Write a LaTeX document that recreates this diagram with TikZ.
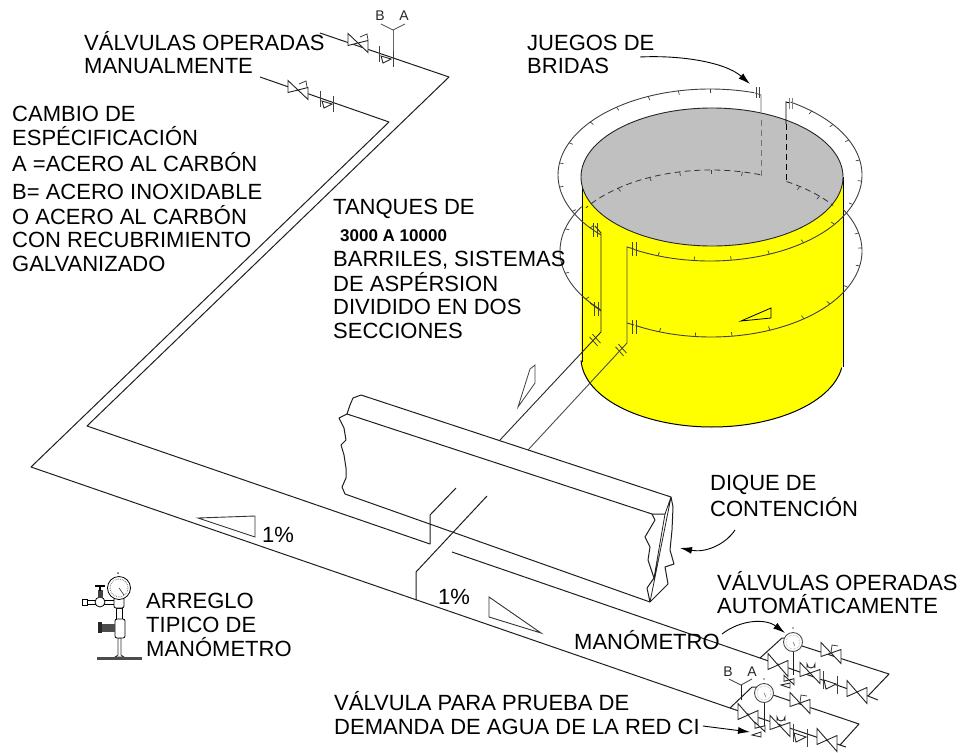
\documentclass[tikz,border=0pt]{standalone}
\usepackage{fontspec}
\setmainfont{Liberation Sans}
\usetikzlibrary{arrows.meta}
\definecolor{tankyellow}{RGB}{255,255,0}
\definecolor{tankgrey}{RGB}{192,192,192}
\definecolor{inkline}{RGB}{30,30,30}
\tikzset{
  lbl/.style={anchor=base west,inner sep=0pt,font=\fontsize{22}{26}\selectfont,text=black},
  lblsmall/.style={anchor=base,inner sep=0pt,font=\fontsize{14}{16}\selectfont,text=black!85},
  pipe/.style={draw=inkline,line width=1pt,line join=round},
  thin line/.style={draw=inkline!85,line width=0.8pt},
  ringline/.style={draw=black!75,line width=0.9pt},
  callout/.style={draw=black,line width=0.9pt,-{Latex[length=12pt,width=7pt]}},
  fitting/.style={draw=black!85,line width=0.9pt,fill=white,line join=miter},
}
% bowtie valve drawn along an isometric pipe
\newcommand\vbow[4]{% x y half-length half-height
  \draw[fitting] ({#1-#3},{#2-0.35*#3-#4}) -- ({#1+#3},{#2+0.35*#3+#4}) -- ({#1+#3},{#2+0.35*#3-#4}) -- ({#1-#3},{#2-0.35*#3+#4}) -- cycle;}
\newcommand\flangepair[4]{% x y half-height gap
  \draw[thin line] (#1,{#2-#3}) -- (#1,{#2+#3}) ({#1+#4},{#2+0.35*#4-#3}) -- ({#1+#4},{#2+0.35*#4+#3});}
\newcommand\ringticks[5]{% cx cy rx ry list
  \foreach \a in {#5}{\draw[ringline,line width=0.7pt] ({#1+#3*cos(\a)},{#2+#4*sin(\a)}) -- ({#1+(#3-4)*cos(\a)},{#2+(#4-4)*sin(\a)});}}
\newcommand\gaugedial[2]{%
  \draw[fitting,draw=black!70] (#1,#2) circle[radius=9.5];
  \fill[black!60] (#1,{#2-14}) circle[radius=0.9];
  \draw[black!45,densely dotted,line width=0.5pt] (#1,#2) circle[radius=7];
  \draw[black!60,line width=0.5pt] (#1,#2) -- ({#1+2},{#2+4});}
\newcommand\wflange[4]{% x y angle spread: double mark across a pipe
  \begin{scope}[shift={(#1,#2)},rotate=#3]
    \draw[thin line] (-2,-#4) -- (-2,#4) (2,-#4) -- (2,#4);
  \end{scope}}
\begin{document}
\begin{tikzpicture}[x=1pt,y=-1pt]
\useasboundingbox (0,0) rectangle (965,752);
% ---------------- tank
\fill[tankyellow] (582,177) -- (843,177) -- (843,360)
  -- plot[domain=0:180,samples=61] ({712+131*cos(\x)},{358+69*sin(\x)}) -- cycle;
\draw[draw=black,line width=1pt] (582,177) -- (582,362);
\draw[draw=black,line width=1pt] (843,177) -- (843,367);
\draw[draw=black,line width=1pt] plot[domain=8:178,samples=61] ({712+131*cos(\x)},{358+69*sin(\x)});
% rings
\draw[ringline] plot[domain=-73:-224,samples=80] ({710+152*cos(\x)},{175+86*sin(\x)});
\draw[ringline] plot[domain=-58:120,samples=90] ({710+152*cos(\x)},{175+86*sin(\x)});
\draw[ringline] plot[domain=-29:120,samples=80] ({711+151*cos(\x)},{251+86*sin(\x)});
\draw[ringline] plot[domain=137:211,samples=40] ({711+151*cos(\x)},{251+86*sin(\x)});
\ringticks{710}{175}{152}{86}{-90,-102,-114,-128,-142,-158,-172,-188,-205,-218}
\ringticks{710}{175}{152}{86}{-48,-36,-24,-10,4,20,35,52,67,82,96,110}
\ringticks{711}{251}{151}{86}{-12,-2,10,25,38,52,67,82,96,110,146,165,195}
% grey top
\draw[fill=tankgrey,draw=black!85,line width=0.9pt] (712,177) ellipse[x radius=131,y radius=69];
% hidden ring part
\draw[black!80,line width=0.8pt,dash pattern=on 6pt off 4pt] plot[domain=-71:-146,samples=40] ({711+151*cos(\x)},{256+86*sin(\x)});
\draw[black!80,line width=0.8pt,dash pattern=on 6pt off 4pt] plot[domain=-60:-36,samples=15] ({711+151*cos(\x)},{256+86*sin(\x)});
\ringticks{711}{256}{151}{86}{-78,-90,-102,-114,-128}
\ringticks{711}{256}{151}{86}{-54,-44}
% risers to the rings
\draw[black!60,line width=0.9pt] (755,93) -- (761,95) -- (761,112);
\draw[black!55,line width=1pt,dash pattern=on 6pt off 4pt] (761,120) -- (761,177);
\draw[black,line width=0.9pt] (790,103) -- (786,102) -- (786,124);
\draw[black,line width=1pt,dash pattern=on 6pt off 4pt] (786,124) -- (786,182);
\draw[thin line] (756,87) -- (756,98) (759,87) -- (759,98);
\draw[thin line,draw=black!50] (789,98) -- (789,109) (792,98) -- (792,109);
% pipes on the shell
\draw[draw=black!85,line width=0.9pt] (595,226) -- (601,233) -- (601,332) -- (500,440);
\draw[draw=black!70,line width=0.9pt] (634,249) -- (627,247) -- (627,343) -- (528,450);
\wflange{595}{230}{0}{7}
\wflange{634}{249}{0}{7}
\wflange{596}{309}{0}{7}
\wflange{634}{327}{0}{7}
\draw[draw=black!80,line width=0.8pt] (601,311) -- (590,303);
\draw[draw=black!80,line width=0.8pt] (627,323) -- (634,325);
\wflange{595}{340}{42}{6}
\wflange{621}{350}{42}{6}
% slope triangle on the shell
\draw[draw=black,line width=0.8pt] (741,321) -- (771,308) -- (771,318) -- cycle;
% ---------------- slope triangle near the tank
\draw[draw=black!75,line width=0.8pt] (518,407) -- (530,369) -- (535,365) -- (535,383) -- cycle;
% ---------------- dike
\draw[pipe] (361,395) -- (671,497);
\draw[pipe] (347,414) -- (652,514) -- (665,514);
\draw[pipe] (345,494) -- (650,602);
\draw[pipe] (361,395) -- (353,398) -- (350,405) -- (347,414) -- (339,418) -- (344,428) -- (346,440) -- (341,445) -- (344,455) -- (346,468) -- (346,478) -- (342,487) -- (345,494);
\draw[pipe] (652,514) -- (655,520) -- (645,537) -- (650,547) -- (648,560) -- (654,578) -- (647,588) -- (650,602) -- (668,584) -- (665,567) -- (674,564) -- (670,550) -- (672,530) -- (673,507) -- (671,497);
\draw[pipe,line width=0.8pt] (671,497) -- (650,602) (671,497) -- (665,514) -- (654,578);
% ---------------- long pipework
\draw[pipe] (320,33) -- (449,77) -- (87,426) -- (430,544);
\draw[pipe] (260,77) -- (389,122) -- (31,467) -- (730,708);
\draw[pipe] (452,552) -- (760,658);
\draw[pipe] (430,544) -- (430,515) -- (456,488);
\draw[pipe] (416,600) -- (416,572) -- (487,496);
% slope triangles
\draw[draw=black!80,line width=0.9pt] (198,518) -- (255,516) -- (255,537) -- cycle;
\draw[draw=black!80,line width=0.9pt] (489,597) -- (489,617) -- (541,633) -- cycle;
% ---------------- upper left valves
\draw[black!60,line width=1pt] (393,30) -- (393,64);
\draw[black!70,line width=0.8pt] (381,24) -- (393,30) -- (405,24);
\vbow{358}{43}{10}{6}
\draw[thin line] (360,37) -- (367,34) -- (368,40);
\flangepair{379}{54}{8}{14}
\draw[fitting] (381,56) -- (391,59) -- (383,63) -- cycle;
\vbow{298}{90}{10}{6}
\draw[thin line] (299,84) -- (306,81) -- (307,87);
\flangepair{320}{99}{8}{13}
\draw[fitting] (322,101) -- (332,104) -- (324,108) -- cycle;
% ---------------- lower right assembly, upper set
\draw[pipe] (760,658) -- (782,638) -- (786,638);
\draw[pipe] (802,646) -- (889,674) -- (868,696) -- (878,700);
\draw[pipe] (760,658) -- (868,696);
\draw[pipe] (793,652) -- (793,675);
\vbow{778}{665}{10}{8}
\vbow{831}{653}{10}{7}
\draw[thin line] (831,653) -- (832,645) -- (838,646);
\vbow{810}{673}{10}{7}
\draw[fitting] (807,668) -- (807,664) arc[start angle=180,end angle=0,radius=4] -- (815,668);
\flangepair{823}{680}{9}{14}
\draw[fitting] (824,680) -- (836,684) -- (826,689) -- cycle;
\vbow{857}{692}{10}{8}
\vbow{789}{680}{5}{3}
\draw[fitting] (781,685) -- (790,683) -- (790,688) -- cycle;
\gaugedial{793}{642}
\draw[callout] (722,634) .. controls (740,620) and (765,618) .. (785,633);
% ---------------- lower right assembly, lower set
\draw[black!70,line width=0.9pt] (729,679) -- (741,685) -- (752,679);
\draw[pipe] (741,685) -- (741,700);
\draw[pipe] (730,708) -- (752,687) -- (757,687);
\draw[pipe] (773,695) -- (859,724) -- (840,745) -- (846,747);
\draw[pipe] (730,708) -- (840,745);
\draw[pipe] (764,702) -- (764,727);
\vbow{748}{715}{10}{8}
\vbow{800}{703}{10}{7}
\draw[thin line] (800,703) -- (801,695) -- (807,696);
\vbow{780}{726}{10}{7}
\draw[fitting] (777,721) -- (777,717) arc[start angle=180,end angle=0,radius=4] -- (785,721);
\flangepair{793}{733}{9}{14}
\draw[fitting] (794,733) -- (806,737) -- (796,742) -- cycle;
\vbow{827}{740}{10}{8}
\vbow{760}{727}{5}{3}
\draw[fitting] (752,735) -- (761,732) -- (761,737) -- cycle;
\gaugedial{764}{693}
% ---------------- typical gauge arrangement
\begin{scope}[line width=0.8pt]
  \draw[fill=white,draw=black!80] (118,638) -- (118,655) -- (115,657) -- (124,657) -- (121,655) -- (121,638) -- cycle;
  \fill[black!70] (97,657) rectangle (142,660);
  \draw[fill=white,draw=black] (116,608) rectangle (122,620);
  \draw[fill=white,draw=black,rounded corners=2pt] (115,619) rectangle (125,638);
  \fill[black!85] (98,622) rectangle (102,633);
  \fill[black!70] (102,624) rectangle (115,632);
  \draw[fill=white,draw=black] (87,600) rectangle (114,604);
  \draw[fill=white,draw=black] (82,599) rectangle (87,605);
  \draw[fill=white,draw=black] (100,602) circle[radius=5];
  \draw[fill=black!75,draw=black!75] (98,590) rectangle (102,597);
  \draw[black,line width=1.5pt] (95,586) -- (105,586) (100,586) -- (100,591);
  \draw[fill=white,draw=black,rounded corners=2pt] (114,597) rectangle (124,608);
  \draw[fill=white,draw=black] (119,588) circle[radius=11.5];
  \draw[black!50,densely dotted] (119,588) circle[radius=9];
  \draw[black!80,line width=0.6pt] (119,588) -- (124,595);
  \fill[black!70] (118,573) circle[radius=1];
\end{scope}
% ---------------- texts
\node[lbl] (t1) at (84,50) {VÁLVULAS OPERADAS};
\node[lbl] (t2) at (84,73) {MANUALMENTE};
\node[lblsmall] (tb1) at (380,21) {B};
\node[lblsmall] (ta1) at (404,21) {A};
\node[lbl] (t3) at (12,121) {CAMBIO DE};
\node[lbl] (t4) at (12,145) {ESPÉCIFICACIÓN};
\node[lbl] (t5) at (12,171) {A =ACERO AL CARBÓN};
\node[lbl] (t6) at (12,199) {B= ACERO INOXIDABLE};
\node[lbl] (t7) at (12,224) {O ACERO AL CARBÓN};
\node[lbl] (t8) at (12,247) {CON RECUBRIMIENTO};
\node[lbl] (t9) at (12,271) {GALVANIZADO};
\node[lbl] (t10) at (527,50) {JUEGOS DE};
\node[lbl] (t11) at (527,74) {BRIDAS};
\node[lbl] (t12) at (333,214) {TANQUES DE};
\node[lbl,font=\fontsize{17}{20}\bfseries\selectfont] (t13) at (340,241) {3000 A 10000};
\node[lbl] (t14) at (333,266) {BARRILES, SISTEMAS};
\node[lbl] (t15) at (333,291) {DE ASPÉRSION};
\node[lbl] (t16) at (333,314) {DIVIDIDO EN DOS};
\node[lbl] (t17) at (333,338) {SECCIONES};
\node[lbl] (t18) at (710,490) {DIQUE DE};
\node[lbl] (t19) at (710,516) {CONTENCIÓN};
\node[lbl] (t20) at (262,542) {1\%};
\node[lbl] (t21) at (438,604) {1\%};
\node[lbl] (t22) at (146,608) {ARREGLO};
\node[lbl] (t23) at (146,632) {TIPICO DE};
\node[lbl] (t24) at (146,656) {MANÓMETRO};
\node[lbl] (t25) at (717,590) {VÁLVULAS OPERADAS};
\node[lbl] (t26) at (717,613) {AUTOMÁTICAMENTE};
\node[lbl] (t27) at (574,649) {MANÓMETRO};
\node[lblsmall] (tb2) at (728,676) {B};
\node[lblsmall] (ta2) at (752,676) {A};
\node[lbl] (t28) at (334,710) {VÁLVULA PARA PRUEBA DE};
\node[lbl] (t29) at (334,734) {DEMANDA DE AGUA DE LA RED CI};
% ---------------- callouts
\coordinate (cj) at (750,84);
\coordinate (cd) at (680,548);
\coordinate (cv) at (750,732);
\draw[callout] (640,57) .. controls (680,55) and (725,62) .. (cj);
\draw[callout] (735,530) .. controls (725,545) and (705,553) .. (cd);
\draw[callout] (703,726) -- (cv);
\end{tikzpicture}
\end{document}
